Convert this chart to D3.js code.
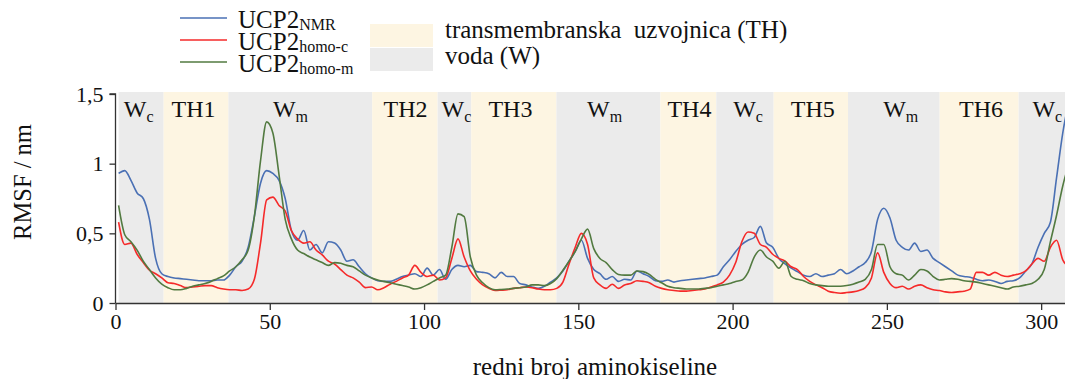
<!DOCTYPE html>
<html>
<head>
<meta charset="utf-8">
<script src="https://cdn.jsdelivr.net/npm/d3@7/dist/d3.min.js"></script>
<style>
  html, body { margin: 0; padding: 0; background: #fff; }
  svg { display: block; }
  svg text { font-family: "Liberation Serif", "Times New Roman", serif; }
</style>
</head>
<body>
<svg id="chart" width="1065" height="379"></svg>
<script>
// Residue numbers (every second residue) and RMSF values in nm
const residue = d3.range(1, 310, 2);

const rmsfNMR = [
  0.93,0.95,0.88,0.79,0.75,0.60,0.32,0.21,0.19,0.18,
  0.175,0.17,0.165,0.16,0.16,0.16,0.165,0.165,0.20,0.26,
  0.30,0.40,0.62,0.86,0.95,0.93,0.88,0.75,0.52,0.45,
  0.52,0.38,0.42,0.36,0.44,0.43,0.38,0.30,0.31,0.26,
  0.21,0.18,0.16,0.155,0.155,0.17,0.19,0.20,0.21,0.19,
  0.25,0.20,0.24,0.17,0.24,0.27,0.26,0.27,0.225,0.22,
  0.21,0.18,0.22,0.19,0.19,0.14,0.13,0.115,0.105,0.12,
  0.15,0.18,0.23,0.30,0.37,0.45,0.32,0.24,0.21,0.17,
  0.19,0.155,0.17,0.165,0.23,0.21,0.19,0.16,0.155,0.165,
  0.15,0.16,0.165,0.17,0.175,0.18,0.19,0.20,0.26,0.31,
  0.37,0.42,0.45,0.47,0.55,0.43,0.40,0.32,0.28,0.25,
  0.225,0.20,0.19,0.21,0.19,0.20,0.21,0.24,0.21,0.23,
  0.26,0.29,0.37,0.60,0.68,0.61,0.45,0.40,0.38,0.43,
  0.37,0.38,0.32,0.29,0.26,0.23,0.20,0.19,0.185,0.17,
  0.16,0.165,0.155,0.14,0.155,0.16,0.18,0.23,0.28,0.40,
  0.50,0.58,0.90,1.22,1.45
];

const rmsfHomoC = [
  0.58,0.42,0.43,0.35,0.29,0.235,0.21,0.18,0.145,0.14,
  0.125,0.11,0.115,0.12,0.125,0.125,0.11,0.10,0.095,0.095,
  0.09,0.10,0.17,0.43,0.74,0.76,0.70,0.66,0.52,0.46,
  0.43,0.44,0.38,0.345,0.30,0.28,0.24,0.20,0.18,0.15,
  0.11,0.115,0.095,0.11,0.135,0.155,0.18,0.20,0.27,0.22,
  0.19,0.20,0.165,0.18,0.32,0.46,0.33,0.23,0.17,0.13,
  0.105,0.09,0.092,0.095,0.105,0.11,0.115,0.11,0.10,0.095,
  0.095,0.105,0.15,0.28,0.40,0.50,0.42,0.18,0.13,0.105,
  0.135,0.105,0.13,0.14,0.16,0.155,0.145,0.12,0.105,0.095,
  0.09,0.085,0.085,0.09,0.095,0.10,0.115,0.13,0.15,0.20,
  0.29,0.44,0.51,0.50,0.42,0.40,0.35,0.32,0.30,0.26,
  0.24,0.19,0.155,0.13,0.11,0.085,0.075,0.07,0.075,0.08,
  0.09,0.11,0.18,0.36,0.22,0.14,0.11,0.12,0.10,0.12,
  0.13,0.11,0.095,0.09,0.08,0.075,0.08,0.085,0.10,0.22,
  0.22,0.20,0.22,0.20,0.19,0.20,0.21,0.23,0.28,0.32,
  0.30,0.40,0.45,0.31,0.26
];

const rmsfHomoM = [
  0.70,0.49,0.44,0.38,0.30,0.24,0.18,0.135,0.11,0.095,
  0.095,0.105,0.12,0.13,0.14,0.155,0.175,0.195,0.23,0.26,
  0.31,0.38,0.62,1.02,1.30,1.22,0.92,0.60,0.46,0.38,
  0.355,0.33,0.31,0.29,0.27,0.29,0.285,0.27,0.26,0.23,
  0.20,0.18,0.165,0.155,0.145,0.135,0.125,0.115,0.10,0.11,
  0.13,0.155,0.18,0.20,0.40,0.64,0.62,0.33,0.20,0.145,
  0.11,0.095,0.097,0.10,0.105,0.11,0.115,0.13,0.13,0.125,
  0.14,0.175,0.235,0.30,0.37,0.46,0.53,0.39,0.32,0.29,
  0.24,0.205,0.20,0.20,0.23,0.225,0.205,0.17,0.145,0.12,
  0.11,0.105,0.10,0.10,0.10,0.105,0.11,0.12,0.13,0.14,
  0.155,0.165,0.22,0.33,0.38,0.33,0.30,0.25,0.30,0.19,
  0.17,0.16,0.14,0.13,0.125,0.12,0.12,0.12,0.125,0.135,
  0.15,0.17,0.24,0.42,0.42,0.26,0.21,0.20,0.165,0.20,
  0.24,0.23,0.19,0.165,0.17,0.175,0.17,0.16,0.155,0.15,
  0.14,0.13,0.12,0.11,0.10,0.115,0.12,0.13,0.14,0.17,
  0.24,0.44,0.63,0.84,1.00
];

// Membrane topology: region boundaries (residue numbers) and labels
const regionStart = [1, 15.6, 36.6, 83.2, 104.4, 115.3, 142.9, 176.6, 194.7, 213.3, 237.4, 267.1, 292.7];
const regionEnd   = [15.6, 36.6, 83.2, 104.4, 115.3, 142.9, 176.6, 194.7, 213.3, 237.4, 267.1, 292.7, 312];
const regionType  = ["W", "TH", "W", "TH", "W", "TH", "W", "TH", "W", "TH", "W", "TH", "W"];
const regionMain  = ["W", "TH1", "W", "TH2", "W", "TH3", "W", "TH4", "W", "TH5", "W", "TH6", "W"];
const regionSub   = ["c", "", "m", "", "c", "", "m", "", "c", "", "m", "", "c"];
const regionLabelAt = [7.5, 25.3, 56.7, 94, 110.5, 128, 158.5, 186, 205, 226, 254.5, 280.5, 302];

const xTicks = [0, 50, 100, 150, 200, 250, 300];
const yTicks = [0, 0.5, 1, 1.5];

const seriesNames = ["NMR", "homo-c", "homo-m"];
const seriesValues = [rmsfNMR, rmsfHomoC, rmsfHomoM];
const seriesColors = ["#4a70b4", "#f52a2a", "#527a40"];

const bandColors = { TH: "#fdf5e2", W: "#ebebeb" };
const legendBandText = ["transmembranska  uzvojnica (TH)", "voda (W)"];

const SERIF = "'Liberation Serif', 'Times New Roman', serif";
const svg = d3.select("#chart").attr("font-family", SERIF);

const x = d3.scaleLinear().domain([0, 310]).range([115.5, 115.5 + 310 * 3.0855]);
const y = d3.scaleLinear().domain([0, 1.5]).range([303, 94]);

// Background regions
svg.append("g").selectAll("rect")
  .data(regionStart.map((s, i) => ({ s, e: regionEnd[i], t: regionType[i] })))
  .join("rect")
  .attr("x", d => x(d.s))
  .attr("y", y(1.5) - 2)
  .attr("width", d => x(d.e) - x(d.s))
  .attr("height", y(0) - y(1.5) + 2)
  .attr("fill", d => bandColors[d.t]);

// Region labels
const lab = svg.append("g").selectAll("text")
  .data(regionMain.map((m, i) => ({ m, s: regionSub[i], at: regionLabelAt[i] })))
  .join("text")
  .attr("x", d => x(d.at))
  .attr("y", 117)
  .attr("text-anchor", "middle")
  .attr("font-family", SERIF)
  .attr("font-size", 24)
  .attr("fill", "#111");
lab.append("tspan").text(d => d.m);
lab.filter(d => d.s).append("tspan")
  .attr("font-size", 16).attr("dy", 5).text(d => d.s);

// Lines
const line = d3.line()
  .x((d, i) => x(residue[i]))
  .y(d => y(d))
  .curve(d3.curveMonotoneX);

svg.append("g").selectAll("path")
  .data(seriesValues)
  .join("path")
  .attr("d", d => line(d))
  .attr("fill", "none")
  .attr("stroke", (d, i) => seriesColors[i])
  .attr("stroke-width", 1.6)
  .attr("stroke-linejoin", "round");

// Axes
const fmt = v => String(v).replace(".", ",");
const yAxis = svg.append("g")
  .attr("transform", `translate(${x(0)},0)`)
  .call(d3.axisLeft(y).tickValues(yTicks).tickSize(6).tickPadding(6).tickFormat(fmt));
const xAxis = svg.append("g")
  .attr("transform", `translate(0,${y(0)})`)
  .call(d3.axisBottom(x).tickValues(xTicks).tickSize(7).tickPadding(3).tickSizeOuter(0));

[yAxis, xAxis].forEach(a => {
  a.attr("font-family", SERIF).attr("font-size", 22);
  a.selectAll("path, line").attr("stroke", "#333").attr("stroke-width", 1.3);
  a.selectAll("text").attr("font-family", SERIF).attr("font-size", 22).attr("fill", "#111");
});
yAxis.select(".domain").attr("d", `M-6,${y(1.5)}H0V${y(0)}`);

// Axis titles
svg.append("text")
  .attr("transform", "translate(31,182) rotate(-90)")
  .attr("text-anchor", "middle")
  .attr("font-family", SERIF)
  .attr("font-size", 24.5)
  .attr("fill", "#111")
  .text("RMSF / nm");

svg.append("text")
  .attr("x", 595).attr("y", 375)
  .attr("text-anchor", "middle")
  .attr("font-family", SERIF)
  .attr("font-size", 25)
  .attr("fill", "#111")
  .text("redni broj aminokiseline");

// Legend: series
const leg = svg.append("g");
seriesNames.forEach((n, i) => {
  const yy = 18 + i * 22;
  leg.append("line")
    .attr("x1", 180).attr("x2", 227).attr("y1", yy).attr("y2", yy)
    .attr("stroke", seriesColors[i]).attr("stroke-width", 1.6);
  const t = leg.append("text")
    .attr("x", 238).attr("y", yy + 10)
    .attr("font-family", SERIF)
    .attr("font-size", 25).attr("fill", "#111");
  t.append("tspan").text("UCP2");
  t.append("tspan").attr("font-size", 16).attr("dy", 2).text(n);
});

// Legend: regions
["TH", "W"].forEach((k, i) => {
  leg.append("rect")
    .attr("x", 370).attr("y", 24 + i * 24)
    .attr("width", 63).attr("height", 23)
    .attr("fill", bandColors[k]);
  leg.append("text")
    .attr("x", 445).attr("y", 38 + i * 26)
    .attr("font-family", SERIF)
    .attr("font-size", 25).attr("fill", "#111")
    .style("white-space", "pre")
    .text(legendBandText[i]);
});
</script>
</body>
</html>
